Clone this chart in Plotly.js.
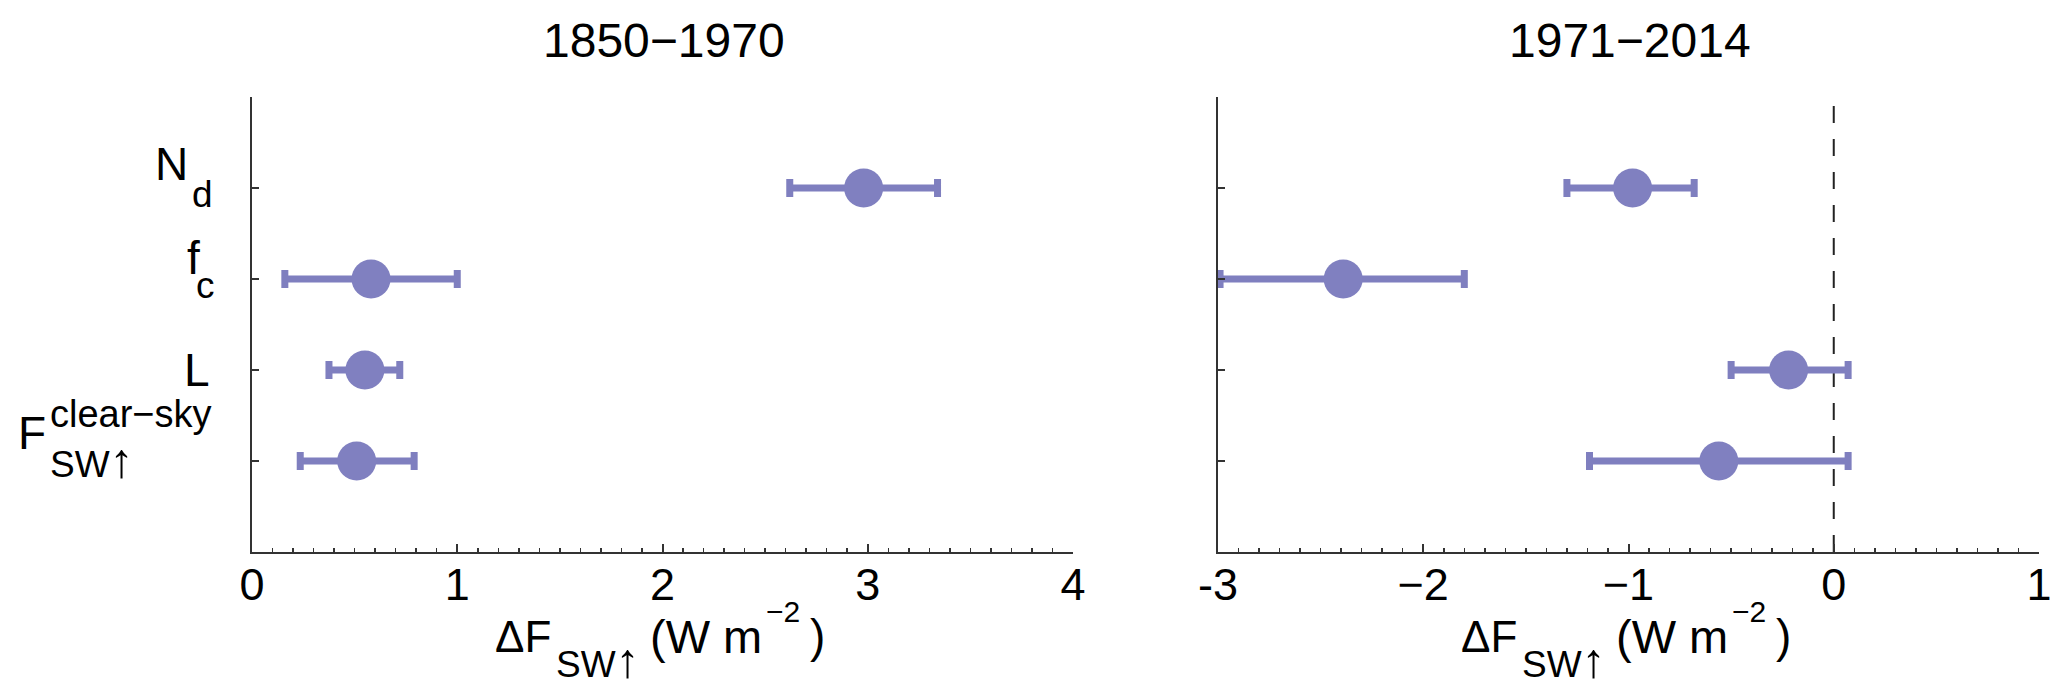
<!DOCTYPE html>
<html>
<head>
<meta charset="utf-8">
<script src="https://cdn.plot.ly/plotly-3.0.1.min.js"></script>
<style>
  body { margin: 0; background: #fff; }
  #chart { width: 2067px; height: 698px; }
</style>
</head>
<body>
<div id="chart"></div>
<script>
// categories, top to bottom
const cats = ["Nd", "fc", "L", "Fclr"];

// 1850-1970 panel: centre, lower and upper end of the range
const early   = [2.98, 0.58, 0.55, 0.51];
const earlyLo = [2.62, 0.16, 0.375, 0.235];
const earlyHi = [3.34, 1.00, 0.72, 0.79];

// 1971-2014 panel
const late   = [-0.98, -2.39, -0.22, -0.56];
const lateLo = [-1.30, -2.99, -0.50, -1.19];
const lateHi = [-0.68, -1.80, 0.07, 0.07];

// category labels
const ARROW = "<span style='font-size:130%'>↑</span>";
const labelMain = ["N", "f", "L", "F"];
const labelSub  = ["d", "c", "", "SW" + ARROW];
const labelSup  = ["", "", "", "clear−sky"];

const panelTitles = ["1850−1970", "1971−2014"];
const leftTicks = [0, 1, 2, 3, 4];
const rightTicks = [-3, -2, -1, 0, 1];
const rightTickText = ["-3", "−2", "−1", "0", "1"];

const W = 2067, PT = 97, PB = 552;
const px = x => x / W;
const py = y => (PB - y) / (PB - PT);
const FONT = "Liberation Sans, Arial, sans-serif";
const BLUE = "#8080c0";
const AX = "#333";

function pointsTrace(x, lo, hi, xa, ya) {
  return {
    type: "scatter", mode: "markers",
    x: x, y: cats, xaxis: xa, yaxis: ya,
    marker: { size: 39, color: BLUE },
    error_x: {
      type: "data", symmetric: false,
      array: x.map((v, i) => hi[i] - v),
      arrayminus: x.map((v, i) => v - lo[i]),
      color: "#7f7fbf", thickness: 7, width: 9
    },
    hoverinfo: "x+y", showlegend: false
  };
}

function xAxis(domain, anchor, range, vals, text) {
  return {
    domain: domain, anchor: anchor, range: range,
    tickvals: vals, ticktext: text || vals.map(String),
    showline: true, linecolor: AX, linewidth: 2,
    ticks: "inside", ticklen: 8, tickwidth: 2, tickcolor: AX,
    minor: { dtick: 0.1, ticks: "inside", ticklen: 4, tickwidth: 1.5, tickcolor: AX },
    tickfont: { size: 45, color: "#000", family: FONT },
    ticklabelstandoff: -8,
    showgrid: false, zeroline: false, fixedrange: true
  };
}

function yAxis(anchor) {
  return {
    anchor: anchor, type: "category", categoryarray: cats,
    range: [4, -1],
    showline: true, linecolor: AX, linewidth: 2,
    ticks: "inside", ticklen: 7, tickwidth: 1.5, tickcolor: AX,
    showticklabels: false, showgrid: false, zeroline: false, fixedrange: true
  };
}

const ann = [];
function txt(text, x, y, size, xanchor) {
  ann.push({
    text: text, xref: "paper", yref: "paper", x: px(x), y: py(y),
    xanchor: xanchor || "left", yanchor: "middle", showarrow: false,
    font: { size: size, color: "#000", family: FONT }
  });
}
function lab(text, i, x, shift, size, xanchor) {
  if (!text) return;
  ann.push({
    text: text, xref: "paper", yref: "y", x: px(x), y: cats[i], yshift: shift,
    xanchor: xanchor, yanchor: "middle", showarrow: false,
    font: { size: size, color: "#000", family: FONT }
  });
}

// label placement (pixels): main right edge, main shift, sub/sup left edge, shifts
const labelPos = [
  { mx: 190, ms: 24, sx: 190, ss: -6, us: 0 },
  { mx: 202, ms: 21, sx: 194, ss: -6, us: 0 },
  { mx: 212, ms: 0,  sx: 0,   ss: 0,  us: 0 },
  { mx: 48,  ms: 28, sx: 48,  ss: 1,  us: 47 }
];
labelMain.forEach((m, i) => {
  const p = labelPos[i];
  lab(m, i, p.mx, p.ms, 46, "right");
  lab(labelSub[i], i, p.sx, p.ss, 37, "left");
  lab(labelSup[i], i, p.sx, p.us, 38, "left");
});

// panel titles and x axis titles
[0, 966].forEach((off, k) => {
  txt(panelTitles[k], 664 + off, 40, 48, "center");
  txt("ΔF", 493 + off, 636, 44);
  txt("SW" + ARROW, 554 + off, 660, 37);
  txt("(W m", 648 + off, 636, 47);
  txt("−2", 764 + off, 611, 30);
  txt(")", 808 + off, 636, 46);
});

const data = [
  pointsTrace(early, earlyLo, earlyHi, "x", "y"),
  pointsTrace(late, lateLo, lateHi, "x2", "y2")
];

const layout = {
  width: W, height: 698,
  margin: { l: 0, r: 0, t: PT, b: 698 - PB },
  paper_bgcolor: "#fff", plot_bgcolor: "#fff",
  font: { family: FONT, color: "#000" },
  xaxis: xAxis([px(252), px(1073)], "y", [0, 4], leftTicks),
  yaxis: yAxis("x"),
  xaxis2: xAxis([px(1218), px(2039)], "y2", [-3, 1], rightTicks, rightTickText),
  yaxis2: yAxis("x2"),
  shapes: [{
    type: "line", xref: "x2", yref: "y2 domain", x0: 0, x1: 0, y0: 0, y1: 1,
    line: { color: "#222", width: 2, dash: "17px,16px" }, layer: "below"
  }],
  annotations: ann,
  showlegend: false
};

Plotly.newPlot("chart", data, layout, { displayModeBar: false, staticPlot: true });
</script>
</body>
</html>
